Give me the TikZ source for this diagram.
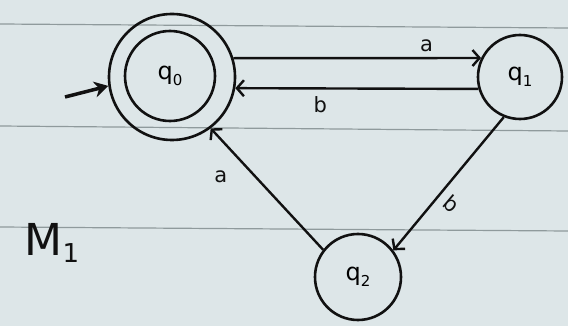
\documentclass[tikz,border=0pt]{standalone}
\usepackage{fontspec}
\setmainfont{DejaVu Sans}
\usetikzlibrary{arrows.meta}
\definecolor{paper}{HTML}{DDE6E8}
\definecolor{rule}{HTML}{8F9A9C}
\definecolor{ink}{HTML}{111111}
\newcommand{\qsub}[1]{q\raisebox{-0.45ex}{\fontsize{15}{15}\selectfont #1}}
\begin{document}
\begin{tikzpicture}[x=1pt,y=-1pt,
  st/.style={circle,draw=ink,line width=2.6pt,inner sep=0pt,font=\fontsize{24}{24}\selectfont},
  edge/.style={draw=ink,line width=2.4pt,-{Straight Barb[length=7pt,width=16pt,line width=2.4pt]}},
  lbl/.style={font=\fontsize{21}{21}\selectfont,text=ink},
  ruled/.style={draw=rule,line width=1.2pt}]
\useasboundingbox (0,0) rectangle (568,326);
\fill[paper] (0,0) rectangle (568,326);
\draw[ruled] (0,24) -- (568,28);
\draw[ruled] (0,126) -- (568,131);
\draw[ruled] (0,227) -- (568,231);
\node[st,minimum size=126pt] (q0) at (172,77) {};
\node[st,minimum size=90pt] (q0in) at (170,76) {\qsub{0}};
\node[st,minimum size=84pt] (q1) at (520,77) {\qsub{1}};
\node[st,minimum size=86pt] (q2) at (358,277) {\qsub{2}};
\coordinate (start) at (65,97);
\draw[edge] (q0.17.5) -- (q1.154.6) node[lbl,pos=0.78,above=2pt] {a};
\draw[edge] (q1.196.6) -- (q0.-10) node[lbl,pos=0.65,below=4pt] {b};
\draw[edge] (q1.-112) -- (q2.37) node[lbl,pos=0.6,right=6pt,rotate=-40] {b};
\draw[edge] (q2.142) -- (q0.-53) node[lbl,pos=0.6,left=24pt] {a};
\draw[draw=ink,line width=3.5pt,-{Stealth[length=14pt,width=16pt]}] (start) -- (q0.188);
\node[font=\fontsize{44}{44}\selectfont,text=ink] (m1) at (52,243) {M\raisebox{-0.3ex}{\fontsize{26}{26}\selectfont 1}};
\end{tikzpicture}
\end{document}
